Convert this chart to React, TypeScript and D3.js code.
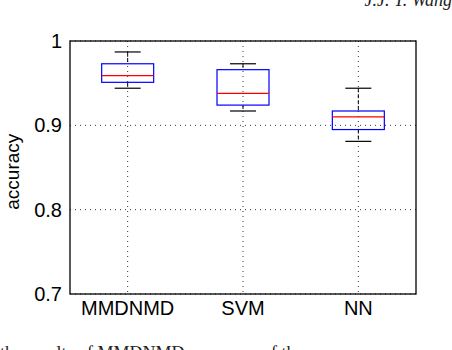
import React from "react";
import * as d3 from "d3";

const categories = ["MMDNMD", "SVM", "NN"];
const whiskerLow = [0.944, 0.917, 0.881];
const boxLow = [0.951, 0.924, 0.895];
const medians = [0.959, 0.938, 0.91];
const boxHigh = [0.973, 0.966, 0.917];
const whiskerHigh = [0.987, 0.973, 0.944];
const yTicks = [0.7, 0.8, 0.9, 1];

const W = 452,
  H = 350;
const margin = { top: 41, right: 36, bottom: 56, left: 70 };
const font = "Liberation Sans, Arial, Helvetica, sans-serif";

export default function App() {
  const innerW = W - margin.left - margin.right;
  const innerH = H - margin.top - margin.bottom;

  const x = d3.scaleLinear().domain([0.5, 3.5]).range([margin.left, margin.left + innerW]);
  const y = d3.scaleLinear().domain([0.7, 1]).range([margin.top + innerH, margin.top]);

  const boxW = 52;
  const capW = 26;

  return (
    <svg
      width={W}
      height={H}
      style={{ position: "absolute", left: 0, top: 0, background: "#fff" }}
    >
      {/* page header fragment */}
      <text
        x={452}
        y={6}
        textAnchor="end"
        fontFamily="Liberation Serif, serif"
        fontStyle="italic"
        fontSize={18}
        fill="#222"
      >
        J.J. T. Wang
      </text>

      {/* grid */}
      {yTicks.map((t) => (
        <line
          key={"gy" + t}
          x1={margin.left}
          x2={margin.left + innerW}
          y1={y(t)}
          y2={y(t)}
          stroke="#333"
          strokeWidth={1}
          strokeDasharray="1,4"
        />
      ))}
      {categories.map((c, i) => (
        <line
          key={"gx" + c}
          x1={x(i + 1)}
          x2={x(i + 1)}
          y1={margin.top}
          y2={margin.top + innerH}
          stroke="#333"
          strokeWidth={1}
          strokeDasharray="1,4"
        />
      ))}

      {/* boxes */}
      {categories.map((c, i) => {
        const cx = x(i + 1);
        return (
          <g key={c}>
            <line x1={cx} x2={cx} y1={y(whiskerHigh[i])} y2={y(boxHigh[i])} stroke="#000" strokeDasharray="4,2" />
            <line x1={cx} x2={cx} y1={y(boxLow[i])} y2={y(whiskerLow[i])} stroke="#000" strokeDasharray="4,2" />
            <line x1={cx - capW / 2} x2={cx + capW / 2} y1={y(whiskerHigh[i])} y2={y(whiskerHigh[i])} stroke="#000" strokeWidth={1.2} />
            <line x1={cx - capW / 2} x2={cx + capW / 2} y1={y(whiskerLow[i])} y2={y(whiskerLow[i])} stroke="#000" strokeWidth={1.2} />
            <rect
              x={cx - boxW / 2}
              y={y(boxHigh[i])}
              width={boxW}
              height={y(boxLow[i]) - y(boxHigh[i])}
              fill="none"
              stroke="#0000ff"
              strokeWidth={1.2}
            />
            <line x1={cx - boxW / 2} x2={cx + boxW / 2} y1={y(medians[i])} y2={y(medians[i])} stroke="#ff0000" strokeWidth={1.2} />
          </g>
        );
      })}

      {/* frame */}
      <rect
        x={margin.left}
        y={margin.top}
        width={innerW}
        height={innerH}
        fill="none"
        stroke="#000"
        strokeWidth={1.3}
      />

      {/* y tick labels */}
      {yTicks.map((t) => (
        <text
          key={"yl" + t}
          x={margin.left - 8}
          y={y(t)}
          dy="0.35em"
          textAnchor="end"
          fontFamily={font}
          fontSize={20}
          fill="#000"
        >
          {t === 1 ? "1" : t.toFixed(1)}
        </text>
      ))}

      {/* x tick labels */}
      {categories.map((c, i) => (
        <text
          key={"xl" + c}
          x={x(i + 1)}
          y={margin.top + innerH + 21}
          textAnchor="middle"
          fontFamily={font}
          fontSize={20}
          fill="#000"
        >
          {c}
        </text>
      ))}

      {/* y axis title */}
      <text
        transform={`translate(19, ${y(0.845)}) rotate(-90)`}
        textAnchor="middle"
        fontFamily={font}
        fontSize={19}
        fill="#000"
      >
        accuracy
      </text>

      {/* caption fragment */}
      <text
        x={0}
        y={359}
        fontFamily="Liberation Serif, serif"
        fontSize={18}
        fill="#222"
      >
        the results of MMDNMD, accuracy of the
      </text>
    </svg>
  );
}
